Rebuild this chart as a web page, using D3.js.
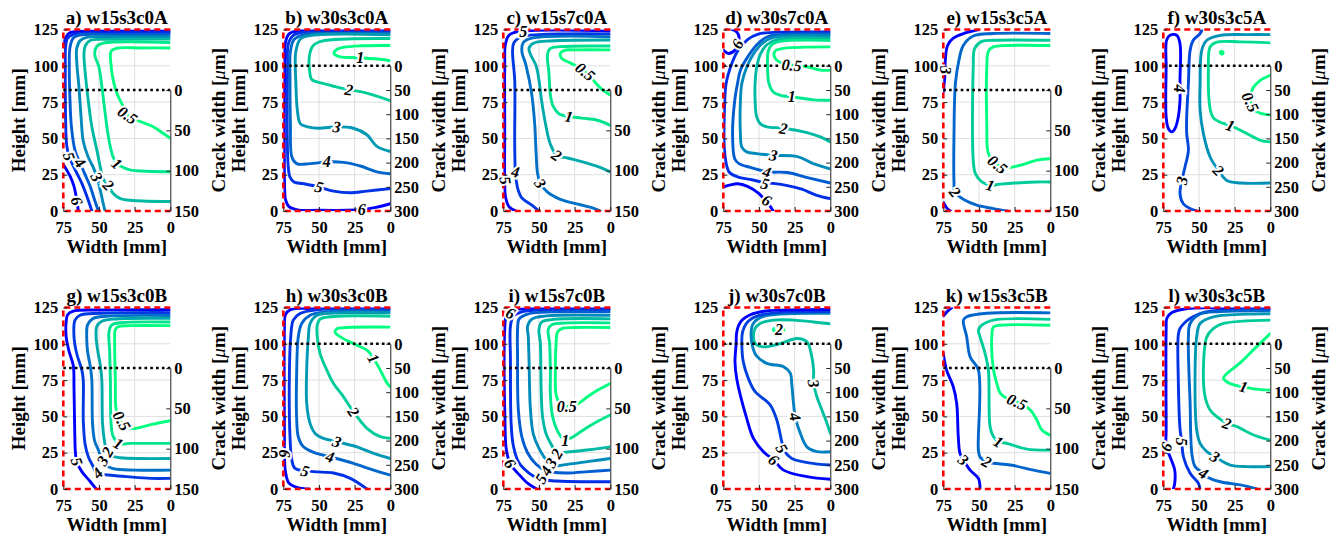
<!DOCTYPE html>
<html>
<head>
<meta charset="utf-8">
<script src="https://cdn.jsdelivr.net/npm/d3@7"></script>
<style>
  body { margin: 0; background: #fff; }
  svg { display: block; }
  text { font-family: "Liberation Serif", "Times New Roman", serif; font-weight: bold; }
</style>
</head>
<body>
<svg id="chart" width="1335" height="539"></svg>
<script>
// panel titles and right-axis settings
const panelTitles = ["a) w15s3c0A", "b) w30s3c0A", "c) w15s7c0A", "d) w30s7c0A", "e) w15s3c5A", "f) w30s3c5A",
                     "g) w15s3c0B", "h) w30s3c0B", "i) w15s7c0B", "j) w30s7c0B", "k) w15s3c5B", "l) w30s3c5B"];
const crackTip = [83.3, 100, 83.3, 100, 83.3, 100, 83.3, 100, 83.3, 100, 83.3, 100]; // height of crack tip [mm]
const crackMax = [150, 300, 150, 300, 150, 300, 150, 300, 150, 300, 150, 300];       // crack width at bottom [um]
const levelRange = [[0.5, 6], [1, 6], [0.5, 5], [0.5, 6], [0.5, 3], [0.5, 4],
                    [0.5, 5], [1, 6], [0.5, 6], [2, 6], [0.5, 3], [1, 6]];
const widthTicks = [75, 50, 25, 0];
const heightTicks = [0, 25, 50, 75, 100, 125];

// contour lines: [level, [[width, height], ...]]
const contoursA = [
  [6, [[75, 32], [72.5, 28], [70, 23.5], [67.5, 17], [66, 10], [65, 4], [64.5, 0]]],
  [6, [[75, 114], [73.5, 119], [71, 122.5], [65, 123.6], [40, 124], [0, 124]]],
  [5, [[55, 0], [57.5, 7.4], [62, 19], [67.5, 30], [71, 37.7], [72.6, 45], [73.4, 64], [73.6, 99], [73.4, 112.8], [72, 119], [68, 121.6], [60, 122.6], [40, 122.8], [0, 122.9]]],
  [4, [[50.4, 0], [53, 7.4], [56, 16.5], [60, 25.7], [63.3, 33.3], [66.8, 41.8], [69.3, 57.9], [70.3, 76], [70.8, 99], [70.3, 112.8], [68, 119.2], [63.3, 121.2], [40, 121.5], [0, 121.6]]],
  [3, [[45.7, 0], [47, 5], [48.5, 12], [51.5, 23.4], [54, 30], [57.5, 37], [61, 48], [62.5, 64], [64, 85], [65.6, 103], [65.6, 112], [63, 117.5], [58, 119.7], [40, 120], [0, 120.1]]],
  [2, [[0, 6.5], [26, 7.2], [35, 8.5], [40, 12], [43.4, 17.7], [47, 22], [49, 30], [51.5, 42], [55, 58], [57.5, 76], [59.5, 94], [60.5, 108], [59.5, 114], [56, 117.5], [45, 118.2], [0, 118.4]]],
  [1, [[0, 27], [21, 27.5], [29, 28.5], [35, 31], [37.5, 32.6], [40, 37], [42, 44], [44, 55], [46, 70], [48, 86], [50, 99], [53, 108], [51.5, 113.5], [47, 115.6], [0, 116]]],
  [0.5, [[0, 50], [5, 53.5], [12, 58], [22, 62], [30, 66], [33, 72], [37, 80], [40, 90], [41.5, 100], [41.5, 110], [38, 112], [20, 112.3], [0, 112.3]]]
];
const contoursB = [
  [6, [[0, 5], [10, 2.5], [20, 1], [30, 0.5], [50, 0.5], [65, 0.8], [71, 3], [73.5, 8], [74, 14], [74, 100], [73.5, 116], [71, 122], [65, 124], [40, 124.4], [0, 124.5]]],
  [5, [[0, 15.4], [16.4, 13.7], [28, 12.6], [39.8, 13.7], [50, 16.5], [60.9, 18.8], [67.5, 20], [70.3, 23.4], [71.5, 30], [72, 100], [71.5, 115], [68, 121], [62, 123], [40, 123.4], [0, 123.5]]],
  [4, [[0, 25.7], [9.4, 27], [21, 31], [32.8, 33.5], [44.5, 33.8], [56.2, 32.6], [65.6, 32.6], [69, 37.2], [70, 60], [70.3, 90], [70, 110], [67.5, 118], [60, 121.6], [40, 122.3], [0, 122.4]]],
  [3, [[0, 41], [9.4, 44.5], [16.4, 52.5], [25.8, 57], [37.5, 58], [50, 57], [58, 58], [63, 60], [65, 68], [66.2, 88], [66.2, 110], [63, 118.5], [55, 121], [0, 121.3]]],
  [2, [[0, 76], [9, 79], [20, 82], [29, 83.5], [38, 85.5], [48, 88], [55, 90.5], [56.5, 96], [56.5, 108], [54, 114], [48, 117], [30, 118.5], [0, 118.8]]],
  [1, [[0, 103.5], [7, 104.5], [14, 105], [21, 105.5], [28, 105.7], [36, 106.3], [39.5, 108.5], [38, 111], [33, 112.7], [20, 113.8], [0, 114]]]
];
const contoursC = [
  [5, [[66, 0], [71, 3], [73.5, 10], [74, 20], [74, 60], [74, 100], [73.5, 115], [71, 121], [65, 123.5], [0, 124]]],
  [4, [[50, 0], [55, 4], [62, 9], [65, 16], [66.5, 27], [67, 45], [67, 90], [68.5, 110], [67.5, 116], [62, 120], [50, 121.5], [0, 122]]],
  [3, [[7, 0], [12, 2], [22, 4.5], [35, 8], [44, 13], [49, 19], [51, 26], [52, 40], [53, 60], [55, 80], [59, 100], [62, 110], [61, 116], [55, 119], [0, 120]]],
  [2, [[0, 27], [10, 31], [20, 34], [30, 36.5], [37.5, 38.4], [42, 46], [45, 58], [48, 75], [50, 90], [52, 100], [56, 108], [57, 112], [54, 115.5], [45, 117], [0, 117.8]]],
  [1, [[0, 59], [9, 62.5], [20, 64], [29, 65], [36, 67], [40, 72], [42, 80], [43, 95], [44, 108], [42, 112], [35, 113.2], [0, 113.6]]],
  [0.5, [[0, 80], [5, 83], [12, 90], [17.6, 96], [28, 102], [34, 105], [35, 108.5], [32, 110.7], [25, 111], [0, 111]]]
];
const contoursD = [
  [6, [[75, 110.8], [71.5, 108.5], [66.8, 110.8], [64.5, 115.3], [64, 119.9], [65.6, 123.3], [69, 125]]],
  [6, [[75, 16.5], [70, 18], [65, 18.8], [58, 17], [50, 12], [45.7, 7.4], [42, 3], [40, 0]]],
  [5, [[0, 8.5], [10, 11], [20, 15], [30, 17.5], [40, 19], [46, 19.5], [55, 21.5], [65, 23.5], [71, 27], [74, 40], [74, 75], [73, 88], [70, 99], [65, 110], [58, 118], [50, 122], [40, 123], [0, 123.3]]],
  [4, [[0, 19.3], [16, 23], [30, 26.5], [44.5, 27], [56, 30], [64, 32.6], [67, 36], [68.5, 53], [67, 76], [65, 88], [63, 97], [58, 106], [51, 115], [44, 120], [35, 121.5], [0, 122]]],
  [3, [[0, 29], [12, 32.6], [23, 37.5], [40, 38.4], [51.5, 39.5], [58.6, 40.7], [62, 44], [63, 53], [63, 76], [62, 88], [58.6, 99], [54, 108], [47, 116], [40, 119.5], [30, 120.6], [0, 120.8]]],
  [2, [[0, 47.6], [7, 51], [16.4, 54], [32.8, 57], [44.5, 58], [49, 60], [51.6, 64.8], [52.7, 76], [52.7, 88], [51.6, 99], [49, 108], [44.5, 114.5], [37.5, 118], [0, 119]]],
  [1, [[0, 76.3], [11.7, 76.5], [18.7, 77.5], [27, 78.6], [35, 79.7], [40, 82], [43, 87.8], [44, 99], [43.5, 110], [41, 114.5], [35, 116.8], [0, 117.4]]],
  [0.5, [[0, 97], [7, 97], [16.4, 99.3], [27, 100.4], [32.8, 101.5], [37.5, 103.8], [39.5, 107.3], [38.3, 110.5], [32.8, 112], [0, 113]]]
];
const contoursE = [
  [3, [[75, 82], [74, 92], [73.5, 105], [72, 114], [68, 119], [60, 122.5], [50, 125]]],
  [3, [[75, 6], [72.5, 2], [70, 0]]],
  [2, [[30, 0], [40, 1.6], [51.6, 4], [60, 7.5], [66.8, 13], [67.5, 20], [67.5, 53], [66.5, 88], [64, 104], [61, 114], [54, 120.5], [40, 122.2], [0, 122.2]]],
  [1, [[0, 20], [9.4, 20], [21, 19.5], [35, 18.5], [42, 17.7], [48, 20], [52.5, 25.7], [54, 35], [54, 99], [53, 112], [48, 116.8], [40, 117.6], [0, 117.6]]],
  [0.5, [[0, 36], [9.4, 35], [21, 31.5], [30, 30], [38.7, 32.6], [43.5, 40], [44.5, 60], [44.5, 99], [43.4, 110], [40, 113], [30, 114], [0, 114]]]
];
const contoursF = [
  [4, [[72.7, 117.6], [70.3, 121], [65.6, 121], [63.3, 115.3], [63.3, 90], [63.3, 76.3], [64.5, 64.8], [66.8, 56.8], [69, 54.5], [71.5, 56.8], [73, 64.8], [73, 99.3], [72.7, 117.6]]],
  [3, [[48, 125], [49.2, 122.2], [54, 117.6], [56.2, 110.8], [57.4, 87.8], [58.6, 64.8], [58.6, 53.3], [57.4, 41.8], [59.8, 30.3], [62, 21], [63.3, 12], [61, 5], [56, 1.6], [51.6, 0]]],
  [2, [[0, 121.5], [16.4, 121.5], [35, 121], [44.5, 117.6], [48, 111], [49.2, 87.8], [49.2, 69.4], [46.9, 53.3], [42.2, 37.2], [36.3, 28], [30.5, 21], [21, 19.3], [0, 19.3]]],
  [1, [[0, 47.6], [7, 48.7], [16.4, 53.3], [23.4, 56.8], [28, 59], [35, 61], [39.8, 64], [42, 69.4], [43.4, 99.3], [42.2, 113], [37.5, 116.3], [21, 116.5], [0, 115.8]]],
  [0.5, [[0, 93.5], [7, 90], [12, 85], [14, 77], [11.7, 70], [5.9, 67], [0, 66]]],
  [0.5, [[35, 109], [33.8, 108], [33, 109.2], [34.3, 110], [35, 109]]]
];
const contoursG = [
  [5, [[52, 0], [56, 5], [62, 12], [65.6, 18.8], [66.5, 25], [67, 40], [67.5, 70], [68, 85], [71, 95], [73, 105], [73, 115], [72, 120], [68, 122.5], [50, 123.3], [0, 123.5]]],
  [4, [[0, 7.3], [14, 7.3], [30.5, 8.5], [43.4, 9.6], [51.6, 10.8], [54, 15.4], [57.4, 22], [59.8, 31.4], [61, 47.5], [61, 75], [62, 81.9], [65.6, 93.3], [67.5, 104.8], [66.8, 116.3], [63.3, 119.7], [49, 121], [0, 121.5]]],
  [3, [[0, 13], [25, 13], [40, 14], [46, 17], [48, 20], [50, 26], [53, 33], [54.5, 45], [55, 75], [56, 84], [58, 95], [58.6, 104.8], [58, 113], [54, 117.5], [45, 119], [0, 119.5]]],
  [2, [[0, 21], [20, 21], [35, 21.5], [42, 23], [44.5, 25.7], [46, 32], [47.5, 45], [48, 75], [49, 85], [51, 96], [52, 105], [51.5, 112], [48, 115.5], [40, 117], [0, 117.5]]],
  [1, [[0, 31.4], [15, 31.4], [28, 31.4], [36, 31.4], [40, 36], [41.5, 45], [42, 75], [42.5, 95], [43, 108], [41, 113], [35, 114.5], [0, 115]]],
  [0.5, [[0, 47], [13, 44.5], [26, 41.7], [33, 44], [36, 49], [38, 55], [38.5, 75], [39, 100], [38.5, 110], [36, 112], [28, 112.5], [0, 112.5]]]
];
const contoursH = [
  [6, [[57, 0], [65, 1], [71, 4], [73.5, 12], [74.2, 24.5], [74.2, 35], [74.2, 110], [73.5, 120], [70, 123.5], [55, 124.4], [0, 124.6]]],
  [5, [[16.4, 0], [28, 7.3], [39.8, 11], [53.9, 12], [66.8, 14.2], [69, 19.9], [70.3, 36], [70.7, 81.9], [69.8, 104.8], [68, 116.3], [63.3, 120.9], [51.6, 123.4], [0, 123.7]]],
  [4, [[0, 9.6], [11.7, 13], [25.8, 17.7], [42.2, 22.2], [51.6, 24.5], [60.9, 29.1], [64.5, 36], [65.6, 47.5], [65.6, 81.9], [64.5, 104.8], [62.1, 114], [56.2, 119.7], [44.5, 122], [0, 122.4]]],
  [3, [[0, 21], [11.7, 24.5], [23.4, 29], [37.5, 32.6], [46.9, 34.9], [52.7, 38.3], [56.2, 45], [58.6, 58.9], [58.6, 81.9], [57.4, 104.8], [56.2, 114], [51.6, 119.5], [39.8, 121.2], [0, 121.4]]],
  [2, [[0, 34.9], [7, 36], [16.4, 41.8], [25.8, 53.2], [32.8, 63.5], [39.8, 72.7], [44.5, 81.9], [49.2, 93.3], [51.2, 104.8], [51.2, 113], [49.2, 117], [39.8, 118.8], [0, 119]]],
  [1, [[0, 70.4], [2.3, 73], [7, 81.9], [11.7, 89.9], [16.4, 95.6], [23.4, 99], [35, 104.8], [38.7, 108], [37.5, 110.3], [30.5, 111.2], [0, 111.5]]]
];
const contoursI = [
  [6, [[51.6, 0], [58, 4], [64, 10], [70.3, 17.7], [73, 28], [73.8, 45], [74, 110], [73, 119], [70, 122.5], [62, 124], [0, 124.4]]],
  [5, [[0, 5], [20, 5], [38, 5.5], [45, 6], [50, 7], [57, 11], [64, 18], [68, 30], [69.5, 45], [70, 90], [70, 112], [68, 119], [62, 122], [50, 123.2], [0, 123.4]]],
  [4, [[0, 13], [15, 12], [30, 11], [40, 11.5], [46, 13], [52, 17], [58, 25], [62, 36], [64.5, 55], [65, 90], [65, 110], [64, 117], [58, 120.5], [45, 121.8], [0, 122]]],
  [3, [[0, 21], [15, 19], [30, 17], [40, 16], [44, 19], [50, 28], [54, 38], [56, 55], [57, 90], [57.5, 105], [58, 112], [55, 117], [45, 119.2], [0, 119.6]]],
  [2, [[0, 29], [15, 27], [30, 25.5], [37.5, 25], [41, 30], [45, 38], [47.5, 50], [48.5, 70], [49, 100], [50, 110], [48, 115], [40, 116.8], [0, 117.2]]],
  [1, [[0, 51], [10, 46], [20, 40], [28, 35], [33, 34.5], [37, 40], [40.5, 50], [42, 65], [42, 80], [42.5, 100], [43.5, 110], [41, 113.2], [35, 114.2], [0, 114.4]]],
  [0.5, [[0, 72.7], [9, 68], [16, 63.5], [24, 58], [31, 57], [36, 60], [38, 65], [38.5, 80], [38, 100], [37, 108], [34, 110.5], [25, 111.2], [0, 111.2]]]
];
const contoursJ = [
  [2, [[40, 110], [38, 108], [34, 108.3], [32.5, 110.2], [35.5, 111.6], [40, 110]]],
  [3, [[0, 113.8], [11.7, 115], [25.8, 116.3], [39.8, 116.3], [49.2, 114], [52.7, 110.6], [53.9, 104.8], [52.7, 100.2], [46.9, 97.9], [35, 100.2], [23.4, 103.7], [16.4, 101.4], [12.9, 90.8], [11.7, 81.7], [11.7, 72.7], [9.4, 63.5], [5.9, 54.4], [2.3, 45.2], [0, 38.3]]],
  [4, [[0, 25.7], [9.4, 25.7], [16.4, 29], [21, 38.3], [24.6, 49.8], [25.8, 59], [27, 72], [28, 79.6], [32.8, 84.2], [44.5, 86.5], [52, 92], [54.5, 98], [55.5, 108], [54, 114], [48, 118.5], [35, 120.5], [0, 121]]],
  [5, [[0, 16.5], [15, 18], [27, 21], [32, 26], [34, 32.6], [37.5, 47.5], [42.2, 58], [52.7, 67], [57.4, 76], [61, 87.6], [62, 100], [61.5, 108], [58, 115], [50, 119.5], [35, 121.6], [0, 122.2]]],
  [6, [[0, 6.7], [16.4, 8.5], [32.8, 13], [39.8, 20], [46.9, 25.7], [53.9, 34.9], [58.6, 48.6], [65.6, 76], [66.8, 87.6], [66, 100], [65.6, 108], [63, 115], [56, 120], [45, 122.6], [30, 123.3], [0, 123.6]]]
];
const contoursK = [
  [3, [[75, 119], [72, 122.5], [69, 125]]],
  [3, [[75, 93.3], [72.7, 81.9], [68, 70.4], [65.6, 58.9], [64.5, 36], [63.3, 24.5], [60.9, 20], [56.2, 13], [50.4, 7.3], [49.2, 0]]],
  [2, [[0, 10.8], [11.7, 13], [28, 16.5], [39.8, 17.7], [44.5, 18.8], [49.2, 22], [50.4, 26.6], [50.4, 81.9], [56.2, 91], [58.6, 104.8], [60.9, 116.3], [58.6, 118.6], [44.5, 121], [0, 121.3]]],
  [1, [[0, 26.8], [16.4, 27.5], [30.5, 31.4], [36.3, 32.6], [39.8, 36], [42.2, 42.9], [43.4, 81.9], [45.7, 93.3], [49.2, 104.8], [50.4, 109.4], [48, 112.8], [39.8, 116.3], [0, 116.8]]],
  [0.5, [[0, 37], [5.9, 40.6], [9.4, 47.5], [14, 54.4], [23.4, 60], [30.5, 62.4], [35, 65.8], [37.5, 72.7], [39.8, 81.9], [41, 104.8], [39.8, 111.6], [35, 112.8], [0, 112.8]]]
];
const contoursL = [
  [6, [[68, 0], [67, 3.9], [67, 13], [70.3, 22.2], [73, 29.1], [73, 40], [73, 110], [72.5, 117.6], [69, 121.5], [60, 124], [0, 124.4]]],
  [5, [[49.2, 0], [50.4, 3.9], [56.2, 10.8], [60.9, 22.2], [62.1, 32.6], [63.3, 41.7], [64.5, 76.1], [64.5, 106], [63.3, 110.5], [56.2, 117.5], [45, 122], [30, 123.3], [0, 123.6]]],
  [4, [[9.4, 0], [21, 2.8], [35, 5], [44.5, 8.5], [46.9, 10.8], [52.7, 15.4], [55, 24.5], [56.2, 58.9], [57.4, 104.8], [56.2, 114], [49.2, 120.5], [35, 122.2], [0, 122.6]]],
  [3, [[0, 15.4], [16.4, 15.4], [28, 16.5], [35, 19.9], [38.7, 22.2], [44.5, 25.7], [49.2, 31.4], [51.6, 40.6], [52.7, 81.9], [51.6, 104.8], [49.2, 114], [39.8, 118.6], [0, 120.6]]],
  [2, [[0, 33.7], [11.7, 37.2], [23.4, 42.9], [30.5, 45.2], [37.5, 49.8], [42.2, 54.4], [45.7, 63.5], [46.9, 81.9], [44.5, 104.8], [39.8, 110.6], [32.8, 114], [0, 116.3]]],
  [1, [[0, 107], [11.7, 96], [21, 87], [32.8, 76.5], [30, 73.5], [25, 71.5], [18.7, 70.4], [11.7, 69], [0, 68.1]]]
];

// contour labels: [level, width, height, rotation]
const labelsA = [[0.5, 30, 66, 35], [1, 37.5, 32.6, 40], [2, 43.4, 17.7, 45], [3, 51.5, 23.4, 60], [4, 63.3, 33.3, 50], [5, 71, 37.7, 70], [6, 65.5, 7, 70]];
const labelsB = [[1, 21, 105.6, 0], [2, 29, 83.5, 10], [3, 37.5, 58, 5], [4, 44.5, 33.8, 0], [5, 50, 16.5, 15], [6, 20, 1, 0]];
const labelsC = [[5, 61, 123.5, 0], [5, 73.5, 21, 80], [4, 66.5, 27, 10], [3, 49, 19, 55], [2, 37.5, 38.4, 35], [1, 29, 65, 10], [0.5, 17.6, 96, 40]];
const labelsD = [[6, 65, 115, -65], [0.5, 27, 100.4, 5], [1, 27, 78.6, 0], [2, 32.8, 56.8, 10], [3, 39.8, 38.4, 10], [4, 44.5, 26.9, 15], [5, 45.7, 18.8, 15], [6, 44.5, 7.4, 30]];
const labelsE = [[3, 73.5, 97, 90], [2, 66.8, 13, 50], [1, 42, 17.7, 15], [0.5, 37, 32, 40]];
const labelsF = [[4, 63.5, 84.3, 90], [3, 62.1, 21, -80], [2, 36.3, 28, 45], [1, 28, 59, 20], [0.5, 14, 75, 65]];
const labelsG = [[0.5, 34, 47, 60], [1, 36.3, 31.4, 30], [2, 44, 25.7, -60], [3, 47.5, 19.5, -60], [4, 51, 11, -45], [5, 65.6, 18.8, 70]];
const labelsH = [[1, 11.7, 89.9, 60], [2, 25.8, 53.2, 55], [3, 37.5, 32.6, 20], [4, 42.2, 22.2, 15], [5, 59.8, 12.5, 15], [6, 74.5, 24.5, 90]];
const labelsI = [[6, 70, 121, 25], [6, 70.3, 17.7, 55], [0.5, 30.5, 56.7, 0], [1, 31.6, 33.7, 0], [2, 37.5, 24.5, -60], [3, 41.5, 18, -60], [4, 45, 12.5, -60], [5, 48.5, 7, -60]];
const labelsJ = [[2, 36, 109.8, 0], [3, 11.7, 72.7, 80], [4, 24.6, 49.8, 75], [5, 34, 28, 60], [6, 39.8, 20, 40]];
const labelsK = [[0.5, 23.4, 60, 25], [1, 36.3, 32.6, 30], [2, 44.5, 18.8, 30], [3, 61, 20, 40]];
const labelsL = [[1, 18.7, 70.4, 15], [2, 30.5, 45.2, 20], [3, 38.7, 22.2, 30], [4, 46.9, 10.8, 30], [5, 62.1, 32.6, 90], [6, 73, 29.1, -70]];

const panelContours = [contoursA, contoursB, contoursC, contoursD, contoursE, contoursF,
                       contoursG, contoursH, contoursI, contoursJ, contoursK, contoursL];
const panelLabels = [labelsA, labelsB, labelsC, labelsD, labelsE, labelsF,
                     labelsG, labelsH, labelsI, labelsJ, labelsK, labelsL];

// layout
const W = 107, H = 181.5;
const colX0 = 63.3, colStep = 220;
const rowY0 = [29.5, 307.5];

const svg = d3.select("#chart");

panelTitles.forEach((title, i) => {
  const col = i % 6, row = Math.floor(i / 6);
  const g = svg.append("g")
      .attr("transform", `translate(${colX0 + col * colStep},${rowY0[row]})`);

  const x = d3.scaleLinear().domain([75, 0]).range([0, W]);
  const y = d3.scaleLinear().domain([0, 125]).range([H, 0]);
  const y2 = d3.scaleLinear().domain([0, crackMax[i]]).range([y(crackTip[i]), y(0)]);
  // winter colormap (green -> blue)
  const color = d3.scaleLinear().domain(levelRange[i]).range(["#00ff80", "#0000ff"]);

  g.append("clipPath").attr("id", "clip" + i)
    .append("rect").attr("x", 0).attr("y", 0).attr("width", W).attr("height", H);

  // grid
  g.selectAll(".gx").data([50, 25]).join("line")
      .attr("x1", d => x(d)).attr("x2", d => x(d))
      .attr("y1", 0).attr("y2", H)
      .attr("stroke", "#dedede").attr("stroke-width", 1);
  g.selectAll(".gy").data([25, 50, 75, 100]).join("line")
      .attr("x1", 0).attr("x2", W)
      .attr("y1", d => y(d)).attr("y2", d => y(d))
      .attr("stroke", "#dedede").attr("stroke-width", 1);

  // contour lines
  const openLine = d3.line().x(d => x(d[0])).y(d => y(d[1])).curve(d3.curveCatmullRom.alpha(0.5));
  const closedLine = d3.line().x(d => x(d[0])).y(d => y(d[1])).curve(d3.curveCatmullRomClosed.alpha(0.5));
  const cg = g.append("g").attr("clip-path", `url(#clip${i})`);
  cg.selectAll("path.contour")
    .data(panelContours[i])
    .join("path")
      .attr("class", "contour")
      .attr("d", d => {
        const pts = d[1];
        const first = pts[0], last = pts[pts.length - 1];
        const closed = first[0] === last[0] && first[1] === last[1];
        return closed ? closedLine(pts.slice(0, -1)) : openLine(pts);
      })
      .attr("fill", "none")
      .attr("stroke", d => color(d[0]))
      .attr("stroke-width", 2.9)
      .attr("stroke-linecap", "round")
      .attr("stroke-linejoin", "round");

  // crack tip (dotted)
  g.append("line")
      .attr("x1", 0).attr("x2", W)
      .attr("y1", y(crackTip[i])).attr("y2", y(crackTip[i]))
      .attr("stroke", "#000").attr("stroke-width", 2.6)
      .attr("stroke-dasharray", "2.6,3.2");

  // red dashed boundary (top, left, bottom)
  g.append("path")
      .attr("d", `M${x(0)},${y(125)}H${x(75)}V${y(0)}H${x(0)}`)
      .attr("fill", "none")
      .attr("stroke", "#ff0000").attr("stroke-width", 2.6)
      .attr("stroke-dasharray", "6,4");

  // contour labels
  g.selectAll("text.clabel")
    .data(panelLabels[i])
    .join("text")
      .attr("class", "clabel")
      .attr("transform", d => `translate(${x(d[1])},${y(d[2])}) rotate(${d[3]})`)
      .attr("text-anchor", "middle")
      .attr("dominant-baseline", "central")
      .attr("font-size", 16)
      .attr("font-style", "italic")
      .attr("fill", "#000")
      .attr("stroke", "#fff").attr("stroke-width", 4)
      .attr("paint-order", "stroke")
      .text(d => String(d[0]));

  // axes
  const axL = g.append("g")
      .call(d3.axisLeft(y).tickValues(heightTicks).tickSizeInner(-4).tickSizeOuter(0).tickPadding(5));
  const axB = g.append("g").attr("transform", `translate(0,${H})`)
      .call(d3.axisBottom(x).tickValues(widthTicks).tickSizeInner(-4).tickSizeOuter(0).tickPadding(10));
  const axR = g.append("g").attr("transform", `translate(${W},0)`)
      .call(d3.axisRight(y2).tickValues(d3.range(0, crackMax[i] + 1, 50)).tickSizeInner(-4).tickSizeOuter(0).tickPadding(4));
  [axL, axB].forEach(a => a.select(".domain").remove());
  [axL, axB, axR].forEach(a => {
    a.attr("font-family", null).attr("font-size", 16.5);
    a.selectAll("path, line").attr("stroke", "#222");
    a.selectAll("text").attr("fill", "#000");
  });

  // titles and axis labels
  g.append("text")
      .attr("x", W / 2).attr("y", -6)
      .attr("text-anchor", "middle")
      .attr("font-size", 19)
      .text(title);
  g.append("text")
      .attr("x", W / 2).attr("y", H + 42)
      .attr("text-anchor", "middle")
      .attr("font-size", 19)
      .text("Width [mm]");
  g.append("text")
      .attr("transform", `translate(-38,${H / 2}) rotate(-90)`)
      .attr("text-anchor", "middle")
      .attr("font-size", 19)
      .text("Height [mm]");
  const cw = g.append("text")
      .attr("transform", `translate(${W + 55},${H / 2}) rotate(-90)`)
      .attr("text-anchor", "middle")
      .attr("font-size", 19);
  cw.append("tspan").text("Crack width [");
  cw.append("tspan").attr("font-style", "italic").attr("font-weight", "normal").text("\u03bc");
  cw.append("tspan").text("m]");
});
</script>
</body>
</html>
